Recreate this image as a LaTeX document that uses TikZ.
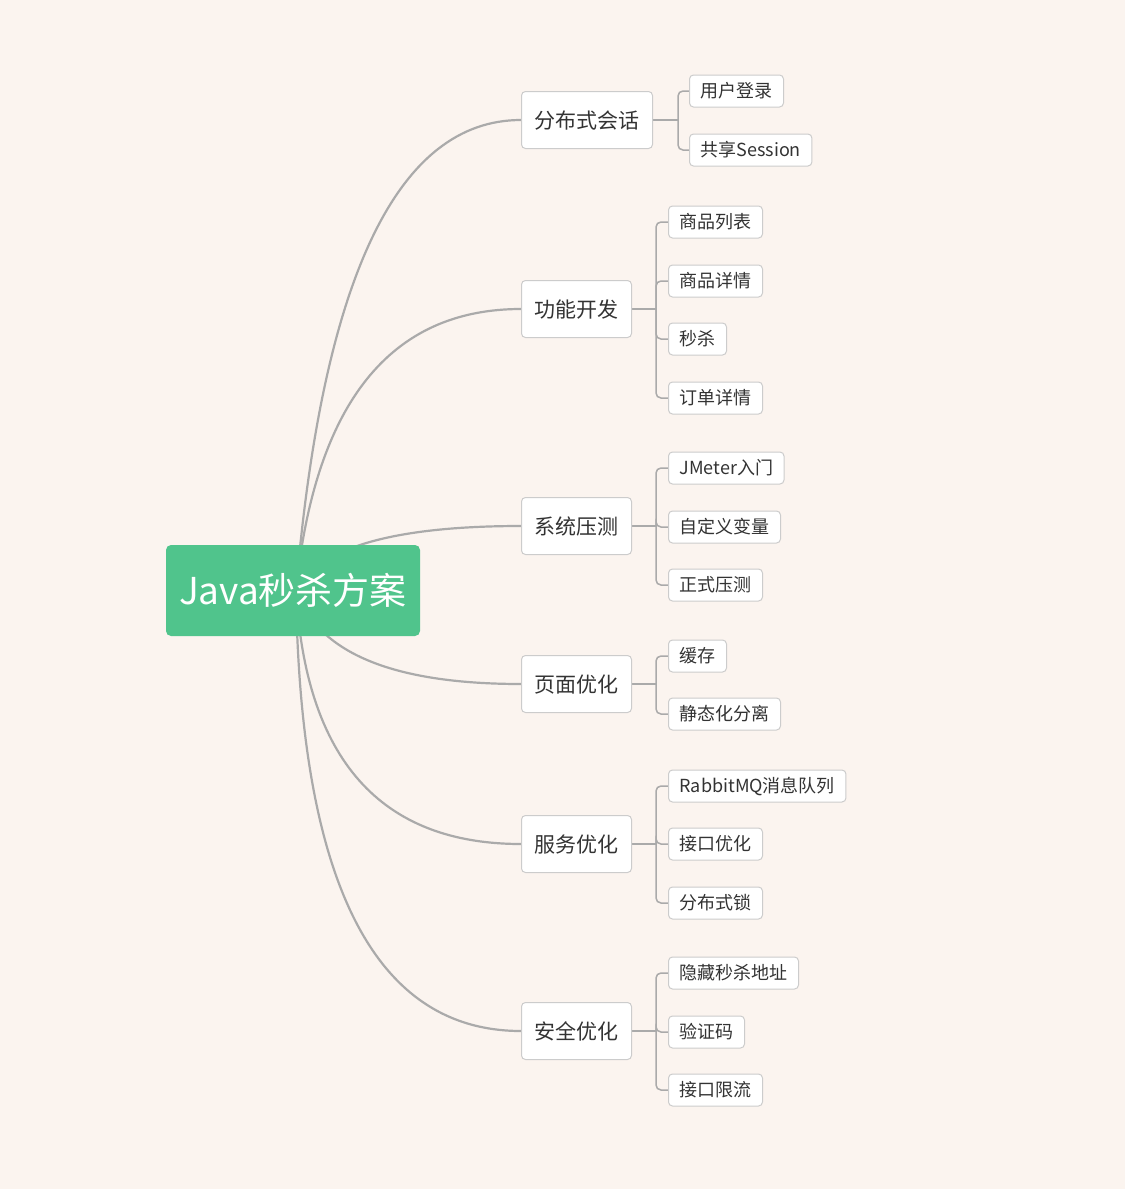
\documentclass[tikz,border=0pt]{standalone}
\usepackage{fontspec}
\setmainfont{Noto Sans CJK SC}
\usetikzlibrary{calc}
\definecolor{bgc}{RGB}{251,244,239}
\definecolor{rootgreen}{RGB}{80,196,140}
\definecolor{boxline}{RGB}{204,204,204}
\definecolor{edgec}{RGB}{170,170,170}
\definecolor{txt}{RGB}{51,51,51}
\pgfdeclarelayer{bg}
\pgfsetlayers{bg,main}
\begin{document}
\begin{tikzpicture}[x=1pt,y=-1pt,
  rootbox/.style={fill=rootgreen, rounded corners=5pt, text=white, font=\fontsize{37}{40}\selectfont, minimum width=254pt, minimum height=91pt, inner sep=0pt, text height=31pt, text depth=3pt},
  branchbox/.style={draw=boxline, fill=white, rounded corners=4pt, line width=1pt, text=txt, font=\fontsize{21}{24}\selectfont, minimum height=57pt, inner xsep=13pt, inner ysep=0pt, anchor=west, text height=18pt, text depth=2pt},
  leafbox/.style={draw=boxline, fill=white, rounded corners=4pt, line width=1pt, text=txt, font=\fontsize{18}{20}\selectfont, minimum height=32pt, inner xsep=11pt, inner ysep=0pt, anchor=west, text height=15.5pt, text depth=1.9pt},
  edge/.style={draw=edgec, line width=2.2pt},
  twig/.style={draw=edgec, line width=1.5pt, rounded corners=5pt}]
\useasboundingbox (0,0) rectangle (1125,1189);
% root
\node[rootbox] (root) at (293,590.5) {Java秒杀方案};
\coordinate (rc) at (296,590);
% branches
\node[branchbox] (b1) at (521,120) {分布式会话};
\node[branchbox] (b2) at (521,309) {功能开发};
\node[branchbox] (b3) at (521,526) {系统压测};
\node[branchbox] (b4) at (521,684) {页面优化};
\node[branchbox] (b5) at (521,844) {服务优化};
\node[branchbox] (b6) at (521,1031) {安全优化};
% control points of the root curves
\coordinate (q1) at (336,120);
\coordinate (q2) at (325,309);
\coordinate (q3) at (331,526);
\coordinate (q4) at (328,684);
\coordinate (q5) at (310,844);
\coordinate (q6) at (302,1031);
% junctions
\coordinate (j1) at (678,120);
\coordinate (j2) at (656,309);
\coordinate (j3) at (656,526);
\coordinate (j4) at (656,684);
\coordinate (j5) at (656,844);
\coordinate (j6) at (656,1031);
% leaves
\node[leafbox] (l11) at (689,91) {用户登录};
\node[leafbox] (l12) at (689,150) {共享Session};
\node[leafbox] (l21) at (668,222) {商品列表};
\node[leafbox] (l22) at (668,281) {商品详情};
\node[leafbox] (l23) at (668,339) {秒杀};
\node[leafbox] (l24) at (668,398) {订单详情};
\node[leafbox] (l31) at (668,468) {JMeter入门};
\node[leafbox] (l32) at (668,527) {自定义变量};
\node[leafbox] (l33) at (668,585) {正式压测};
\node[leafbox] (l41) at (668,656) {缓存};
\node[leafbox] (l42) at (668,714) {静态化分离};
\node[leafbox] (l51) at (668,786) {RabbitMQ消息队列};
\node[leafbox] (l52) at (668,844) {接口优化};
\node[leafbox] (l53) at (668,903) {分布式锁};
\node[leafbox] (l61) at (668,973) {隐藏秒杀地址};
\node[leafbox] (l62) at (668,1032) {验证码};
\node[leafbox] (l63) at (668,1090) {接口限流};
\begin{pgfonlayer}{bg}
\fill[bgc] (0,0) rectangle (1125,1189);
\foreach \i in {1,...,6}{
  \draw[edge] (rc) .. controls ($(rc)!2/3!(q\i)$) and ($(b\i.west)!2/3!(q\i)$) .. (b\i.west);
  \draw[twig] (b\i.east) -- (j\i);
}
\foreach \b/\l in {1/l11,1/l12,2/l21,2/l22,2/l23,2/l24,3/l31,3/l32,3/l33,4/l41,4/l42,5/l51,5/l52,5/l53,6/l61,6/l62,6/l63}{
  \draw[twig] (j\b) |- (\l.west);
}
\end{pgfonlayer}
\end{tikzpicture}
\end{document}
